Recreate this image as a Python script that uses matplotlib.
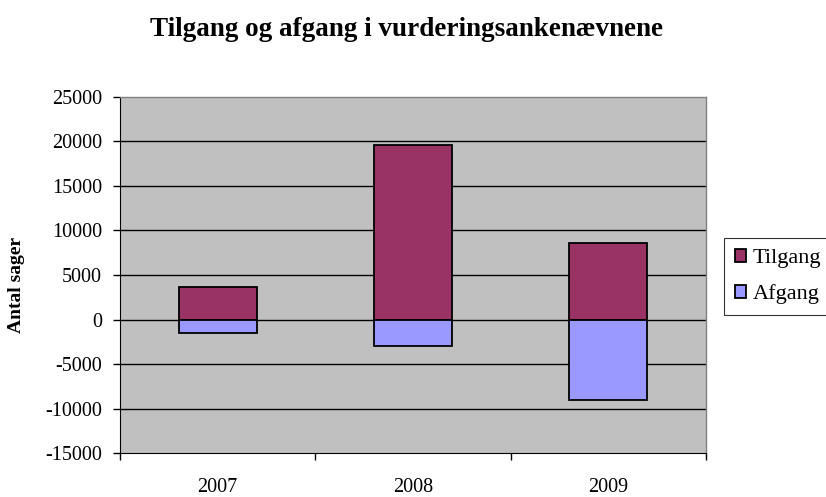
import matplotlib
matplotlib.use("Agg")
import matplotlib.pyplot as plt
import numpy as np

years = ["2007", "2008", "2009"]
tilgang = [3700, 19550, 8550]
afgang = [-1550, -2950, -9000]
yticks = [-15000, -10000, -5000, 0, 5000, 10000, 15000, 20000, 25000]

plt.rcParams['font.family'] = ['Liberation Serif', 'DejaVu Serif']

fig = plt.figure(figsize=(8.26, 4.97), dpi=100)
ax = fig.add_axes([120/826, 1-453.3/497, (706-120)/826, (453.3-96.7)/497])
ax.set_facecolor('#C0C0C0')

x = np.arange(len(years))
w = 0.4
ax.bar(x, tilgang, width=w, color='#993366', edgecolor='black', linewidth=1.3, label='Tilgang', zorder=3)
ax.bar(x, afgang, width=w, color='#9999FF', edgecolor='black', linewidth=1.3, label='Afgang', zorder=3)

ax.set_ylim(-15000, 25000)
ax.set_xlim(-0.5, 2.5)
ax.set_yticks(yticks)
ax.set_yticklabels([str(v) for v in yticks], fontsize=14.5)
for v in yticks[1:-1]:
    ax.axhline(v, color='black', linewidth=1, zorder=1)

ax.set_xticks([-0.5, 0.5, 1.5, 2.5])
ax.set_xticklabels([])
ax.set_xticks(x, minor=True)
ax.set_xticklabels(years, minor=True, fontsize=14.5)
ax.tick_params(axis='x', which='minor', length=0, pad=18)
ax.tick_params(axis='x', which='major', direction='out', length=5, width=1)
ax.tick_params(axis='y', direction='out', length=5, width=1, pad=8)

for s in ['top', 'right']:
    ax.spines[s].set_color('#808080')
    ax.spines[s].set_linewidth(1)
ax.spines['left'].set_color('black')
ax.spines['bottom'].set_color('black')

fig.text(17/826, 1-285/497, 'Antal sager', rotation=90, ha='center', va='center',
         fontsize=14, fontweight='bold')

fig.text(407/826, 1-30/497, 'Tilgang og afgang i vurderingsankenævnene', ha='center', va='center',
         fontsize=19.5, fontweight='bold')

leg = ax.legend(loc='upper left', bbox_to_anchor=(723.5/826, 1-238/497), bbox_transform=fig.transFigure,
                frameon=True, fancybox=False, edgecolor='black', fontsize=16,
                handlelength=0.5, handleheight=0.5, handletextpad=0.3, borderpad=0.5, labelspacing=0.72,
                borderaxespad=0)
leg.get_frame().set_linewidth(0.8)
leg.get_frame().set_facecolor('white')

fig.savefig('out.png', dpi=100)
